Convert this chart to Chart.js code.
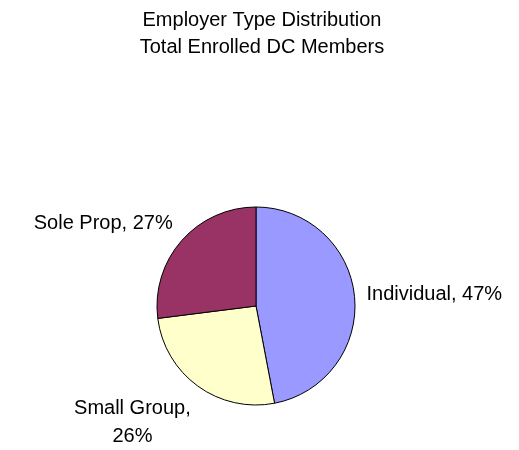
<!DOCTYPE html>
<html>
<head>
<meta charset="utf-8">
<title>Employer Type Distribution</title>
<script src="https://cdn.jsdelivr.net/npm/chart.js@4.4.0/dist/chart.umd.min.js"></script>
<style>
  html, body { margin: 0; padding: 0; background: #fff; }
  #wrap { width: 519px; height: 450px; }
</style>
</head>
<body>
<div id="wrap"><canvas id="pieChart" width="519" height="450"></canvas></div>
<script>
// chart data
const titleLines = ["Employer Type Distribution", "Total Enrolled DC Members"];
const categories = ["Individual", "Small Group", "Sole Prop"];
const memberShares = [47, 26, 27];
const sliceColors = ["#9999FF", "#FFFFCC", "#993366"];

const FONT = '20px "Liberation Sans", Arial, sans-serif';

// two-line title, drawn a bit right of centre like the original
const titlePlugin = {
  id: "excelTitle",
  afterDraw(chart) {
    const ctx = chart.ctx;
    ctx.save();
    ctx.font = FONT;
    ctx.fillStyle = "#000";
    ctx.textAlign = "center";
    ctx.textBaseline = "alphabetic";
    titleLines.forEach((t, i) => ctx.fillText(t, 262, 26 + i * 27));
    ctx.restore();
  }
};

// "Category, NN%" labels outside each slice
const sliceLabels = {
  id: "sliceLabels",
  afterDatasetsDraw(chart) {
    const ctx = chart.ctx;
    const meta = chart.getDatasetMeta(0);
    const total = memberShares.reduce((a, b) => a + b, 0);
    ctx.save();
    ctx.font = FONT;
    ctx.fillStyle = "#000";
    ctx.textBaseline = "middle";
    ctx.textAlign = "center";
    meta.data.forEach((arc, i) => {
      const p = arc.getProps(["x", "y", "startAngle", "endAngle", "outerRadius"], true);
      const mid = (p.startAngle + p.endAngle) / 2;
      const cos = Math.cos(mid), sin = Math.sin(mid);
      const pct = Math.round(memberShares[i] / total * 100) + "%";
      let lines = [categories[i] + ", " + pct];
      if (ctx.measureText(lines[0]).width > 150) lines = [categories[i] + ",", pct];
      const lineH = 28;
      const w = Math.max(...lines.map(l => ctx.measureText(l).width));
      const h = lines.length * lineH;
      const boxH = h + (lines.length - 1) * 10; // wrapped labels sit a little further out
      const ax = p.x + cos * (p.outerRadius + 12);
      const ay = p.y + sin * (p.outerRadius + 12);
      const cx = ax + (cos >= 0 ? w / 2 : -w / 2);
      const cy = ay + sin * boxH / 2;
      lines.forEach((l, k) => ctx.fillText(l, cx, cy - h / 2 + lineH * (k + 0.5)));
    });
    ctx.restore();
  }
};

const ctx = document.getElementById("pieChart").getContext("2d");
const pieChart = new Chart(ctx, {
  type: "pie",
  data: {
    labels: categories,
    datasets: [{
      data: memberShares,
      backgroundColor: sliceColors,
      borderColor: "#000",
      borderWidth: 1
    }]
  },
  options: {
    responsive: false,
    animation: false,
    layout: { padding: { top: 206.5, bottom: 44.5, left: 56.5, right: 63.5 } },
    plugins: {
      legend: { display: false },
      tooltip: { enabled: false },
      title: { display: false }
    }
  },
  plugins: [titlePlugin, sliceLabels]
});
</script>
</body>
</html>
